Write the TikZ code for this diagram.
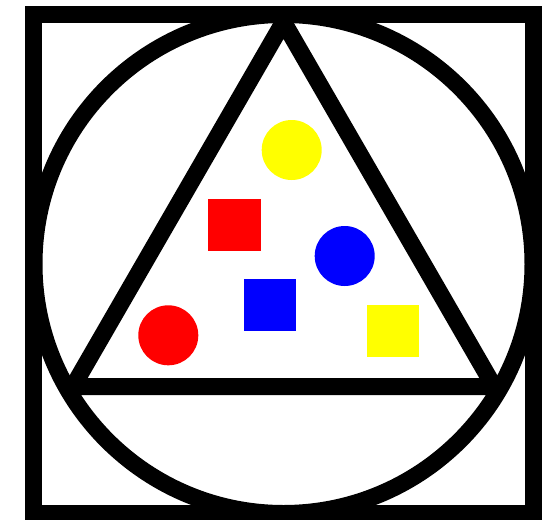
\documentclass[tikz,border=0pt]{standalone}
\begin{document}
\begin{tikzpicture}[x=1pt,y=-1pt,
  outline/.style={draw=black,line width=17pt,fill=none},
  tri/.style={outline,line join=bevel},
  redfill/.style={fill={rgb,255:red,255;green,0;blue,0}},
  bluefill/.style={fill={rgb,255:red,0;green,0;blue,255}},
  yellowfill/.style={fill={rgb,255:red,255;green,255;blue,0}}]
\useasboundingbox[fill=white] (0,0) rectangle (547,520);
% frame square and circle
\draw[outline] (33.5,14.5) rectangle (533.5,513.5);
\draw[outline] (283.5,264) circle[radius=249.5];
% triangle
\coordinate (apex) at (283.5,22);
\coordinate (bl) at (73,386.5);
\coordinate (br) at (494,386.5);
\draw[tri] (apex) -- (bl) -- (br) -- cycle;
% coloured shapes
\fill[yellowfill] (291.7,150) circle[radius=30];
\fill[redfill] (208.3,199.3) rectangle (260.7,251);
\fill[bluefill] (344.7,256) circle[radius=30];
\fill[bluefill] (244,279) rectangle (295.7,330.7);
\fill[redfill] (168.3,335.3) circle[radius=30];
\fill[yellowfill] (367,305) rectangle (419.3,357.3);
\end{tikzpicture}
\end{document}
